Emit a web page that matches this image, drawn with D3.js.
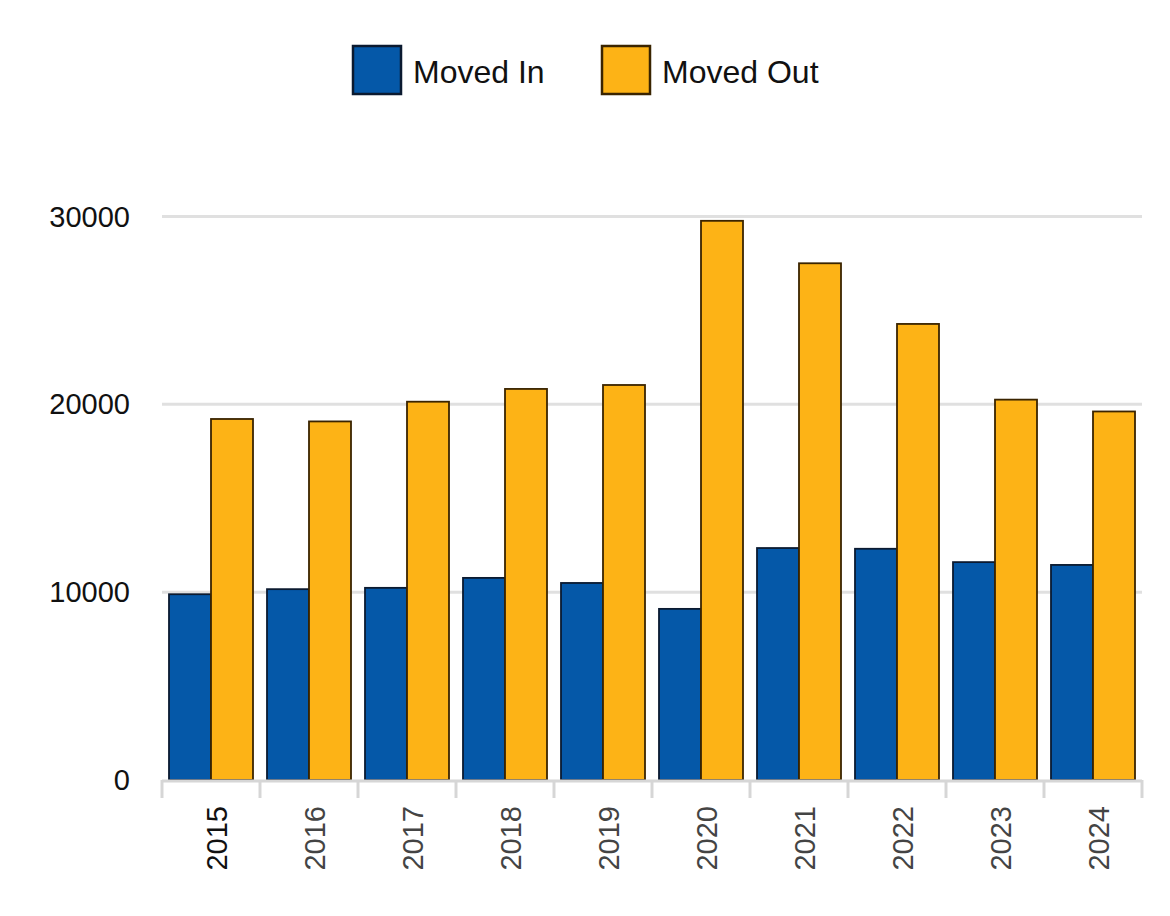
<!DOCTYPE html>
<html>
<head>
<meta charset="utf-8">
<script src="https://cdn.jsdelivr.net/npm/d3@7"></script>
<style>
  body { margin: 0; background: #fff; }
  #chart { width: 1170px; height: 916px; }
</style>
</head>
<body>
<div id="chart"></div>
<script>
const years = ["2015", "2016", "2017", "2018", "2019", "2020", "2021", "2022", "2023", "2024"];
const movedIn = [9890, 10160, 10230, 10760, 10490, 9110, 12350, 12310, 11600, 11450];
const movedOut = [19220, 19090, 20140, 20820, 21030, 29770, 27510, 24280, 20250, 19620];
const seriesNames = ["Moved In", "Moved Out"];
const yTicks = [0, 10000, 20000, 30000];

(function() {
  const width = 1170;
  const height = 916;
  const font = "Helvetica, Arial, 'Liberation Sans', sans-serif";
  const fills = { "Moved In": "#0558a8", "Moved Out": "#fdb316" };
  const strokes = { "Moved In": "#0b1a30", "Moved Out": "#3a2400" };

  const svg = d3.select("#chart")
    .append("svg")
    .attr("width", width)
    .attr("height", height);

  const x = d3.scaleBand().domain(years).range([162, 1142]).padding(0);
  const inset = 7;
  const x1 = d3.scaleBand().domain(seriesNames).range([inset, x.bandwidth() - inset]);
  const y = d3.scaleLinear().domain([0, 30000]).range([780, 216.5]);

  // gridlines
  svg.append("g")
    .selectAll("line")
    .data(yTicks.filter(d => d > 0))
    .join("line")
    .attr("x1", 162)
    .attr("x2", 1142)
    .attr("y1", d => y(d))
    .attr("y2", d => y(d))
    .attr("stroke", "#e0e0e0")
    .attr("stroke-width", 3);

  // y labels
  svg.append("g")
    .selectAll("text")
    .data(yTicks)
    .join("text")
    .attr("x", 130)
    .attr("y", d => y(d))
    .attr("dy", "0.35em")
    .attr("text-anchor", "end")
    .style("font-family", font)
    .style("font-size", "29px")
    .style("fill", "#111")
    .text(d => d);

  // bars
  const rows = years.map((yr, i) => ({ year: yr, values: [
    { key: "Moved In", value: movedIn[i] },
    { key: "Moved Out", value: movedOut[i] }
  ] }));

  const groups = svg.append("g")
    .selectAll("g")
    .data(rows)
    .join("g")
    .attr("transform", d => `translate(${x(d.year)},0)`);

  groups.selectAll("rect")
    .data(d => d.values)
    .join("rect")
    .attr("x", d => x1(d.key))
    .attr("width", x1.bandwidth())
    .attr("y", d => y(d.value))
    .attr("height", d => y(0) - y(d.value))
    .attr("fill", d => fills[d.key])
    .attr("stroke", d => strokes[d.key])
    .attr("stroke-width", 1.8);

  // x axis line + ticks
  const axis = svg.append("g");
  axis.append("line")
    .attr("x1", 162).attr("x2", 1142)
    .attr("y1", 781).attr("y2", 781)
    .attr("stroke", "#d6d6d6")
    .attr("stroke-width", 3);

  axis.selectAll("line.tick")
    .data(years.concat(["end"]))
    .join("line")
    .attr("class", "tick")
    .attr("x1", (d, i) => i < years.length ? x(d) : x.range()[1])
    .attr("x2", (d, i) => i < years.length ? x(d) : x.range()[1])
    .attr("y1", 780)
    .attr("y2", 798)
    .attr("stroke", "#d6d6d6")
    .attr("stroke-width", 3);

  axis.selectAll("text")
    .data(years)
    .join("text")
    .attr("transform", d => `translate(${x(d) + x.bandwidth() / 2 + 6},806) rotate(-90)`)
    .attr("dy", "0.35em")
    .attr("text-anchor", "end")
    .style("font-family", font)
    .style("font-size", "29px")
    .style("fill", (d, i) => i === 0 ? "#111" : "#444")
    .text(d => d);

  // legend
  const legendX = [353, 602];
  const legend = svg.append("g")
    .selectAll("g")
    .data(seriesNames)
    .join("g")
    .attr("transform", (d, i) => `translate(${legendX[i]},46)`);

  legend.append("rect")
    .attr("width", 48)
    .attr("height", 48)
    .attr("fill", d => fills[d])
    .attr("stroke", d => strokes[d])
    .attr("stroke-width", 2.5);

  legend.append("text")
    .attr("x", 60)
    .attr("y", 37)
    .style("font-family", font)
    .style("font-size", "32px")
    .style("fill", "#111")
    .text(d => d);
})();
</script>
</body>
</html>
